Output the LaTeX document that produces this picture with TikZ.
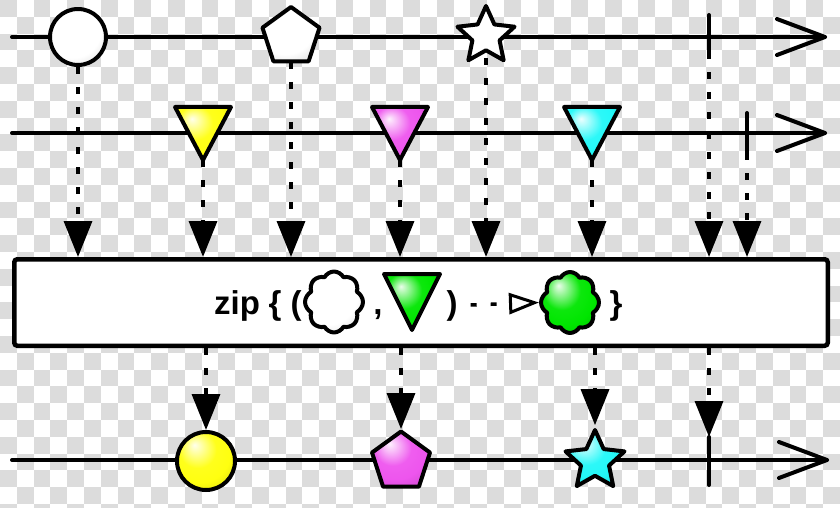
\documentclass[tikz,border=0pt]{standalone}
\usepackage{fontspec}
\setmainfont{Liberation Sans}
\usetikzlibrary{shapes.geometric,shapes.symbols,arrows.meta}
\colorlet{mcol}{white}
\pgfdeclareradialshading[mcol]{marble}{\pgfpoint{-10bp}{14bp}}{color(0bp)=(mcol!8!white); color(5bp)=(mcol!35!white); color(16bp)=(mcol!95!white); color(26bp)=(mcol); color(38bp)=(mcol!86!black); color(55bp)=(mcol!64!black)}
\definecolor{mpink}{HTML}{EE55EE}
\definecolor{mcyan}{HTML}{22F8F8}
\definecolor{mgreen}{HTML}{00E600}
\definecolor{myellow}{HTML}{FFFF10}
\definecolor{checker}{HTML}{DCDCDC}
\tikzset{
  mc/.code={\colorlet{mcol}{#1}},
  mbl/.style={draw=black, line width=4pt, line join=round, shading=marble, mc=#1, inner sep=0pt, outer sep=2pt},
  mcirc/.style={mbl=#1, circle},
  mpent/.style={mbl=#1, regular polygon, regular polygon sides=5},
  mstar/.style={mbl=#1, star, star points=5, star point ratio=2.1},
  mcloud/.style={mbl=#1, cloud, cloud puffs=8, cloud puff arc=125, aspect=1},
  axis/.style={line width=4pt, line cap=round, line join=round},
  conn/.style={line width=3.5pt, dash pattern=on 7pt off 13pt, -{Triangle[width=28pt,length=36pt]}},
  txt/.style={inner sep=0pt, font=\bfseries\fontsize{33}{39}\selectfont},
  zarr/.style={line width=3.5pt, dash pattern=on 6pt off 14pt, -{Triangle[open,length=30pt,width=21pt,line width=3pt]}}
}
\begin{document}
\begin{tikzpicture}[x=1pt,y=-1pt]
\useasboundingbox (0,0) rectangle (840,508);
\clip (0,0) rectangle (840,508);
% checkerboard background
\fill[white] (0,0) rectangle (840,508);
\foreach \i in {0,...,49}{\foreach \j in {0,...,30}{%
  \pgfmathtruncatemacro\ckp{mod(\i+\j,2)}%
  \ifnum\ckp=0 \fill[checker] (\i*16.8,\j*16.8) rectangle ++(16.8,16.8);\fi}}

% operator box
\node[draw, line width=4.5pt, fill=white, rounded corners=3pt, minimum width=813.5pt, minimum height=86.5pt, inner sep=0pt] (box) at (421,302.5) {};

% axes
\coordinate (a1s) at (12,37);  \coordinate (a1e) at (825,37);
\coordinate (a2s) at (12,133); \coordinate (a2e) at (825,133);
\coordinate (a3s) at (12,460); \coordinate (a3e) at (827,460);
\foreach \a in {a1,a2,a3}{
  \draw[axis] (\a s) -- (\a e);
  \draw[axis] ([shift={(-48,-18)}]\a e) -- (\a e) -- ([shift={(-48,18)}]\a e);
}

% completion ticks
\coordinate (k1t) at (709,15);  \coordinate (k1b) at (709,52);
\coordinate (k2t) at (747,113); \coordinate (k2b) at (747,153);
\coordinate (k3t) at (709,437); \coordinate (k3b) at (709,485);

% triangle anchors (second stream)
\coordinate (t1) at (203,133); \coordinate (t1a) at (203,160);
\coordinate (t2) at (400,133); \coordinate (t2a) at (400,160);
\coordinate (t3) at (592,133); \coordinate (t3a) at (592,160);

% marble placement
\path (78,37) coordinate (c1p) (291,37) coordinate (p1p) (486,36) coordinate (s1p);

% connectors into the box
\draw[conn] (78,67) coordinate (c1s) -- (c1s |- box.north);
\draw[conn] (t1a) -- (t1a |- box.north);
\draw[conn] (291,62) coordinate (p1s) -- (p1s |- box.north);
\draw[conn] (t2a) -- (t2a |- box.north);
\draw[conn] (486,58) coordinate (s1s) -- (s1s |- box.north);
\draw[conn] (t3a) -- (t3a |- box.north);
\draw[conn] (k1b) -- (k1b |- box.north);
\draw[conn] (k2b) -- (k2b |- box.north);

% ticks
\draw[axis] (k1t) -- (k1b);
\draw[axis] (k2t) -- (k2b);

% top stream marbles
\node[mcirc=white, minimum size=56pt] (c1) at (c1p) {};
\node[mpent=white, minimum size=60pt] (p1) at (p1p) {};
\node[mstar=white, minimum size=60pt] (s1) at (s1p) {};

% second stream triangles
\foreach \t/\col in {t1/myellow, t2/mpink, t3/mcyan}{
  \path[mbl=\col] ([shift={(-28,-26)}]\t) -- ([shift={(28,-26)}]\t) -- ([shift={(0,27)}]\t) -- cycle;
}

% output stream marbles
\node[mcirc=myellow, minimum size=58pt] (c2) at (206,461) {};
\node[mpent=mpink, minimum size=61pt] (p2) at (401,462) {};
\node[mstar=mcyan, minimum size=62pt] (s2) at (595,461) {};

% connectors out of the box
\draw[conn] (box.south -| c2.north) -- (c2.north);
\draw[conn] (box.south -| p2.north) -- (p2.north);
\draw[conn] (box.south -| s2.north) -- (s2.north);
\draw[conn] (box.south -| k3t) -- (k3t);
\draw[axis] (k3t) -- (k3b);

% box label
\node[txt, anchor=base west] (zip) at (214,314) {zip};
\node[txt, anchor=base] (lb) at (275,314) {\{};
\node[txt, anchor=base] (lp) at (296,314) {(};
\node[mcloud=white, minimum width=58pt, minimum height=61pt] (wc) at (334,302) {};
\node[txt, anchor=base] (cm) at (378,314) {,};
\coordinate (gt) at (412,302);
\path[mbl=mgreen] ([shift={(-28,-28)}]gt) -- ([shift={(28,-28)}]gt) -- ([shift={(0,28)}]gt) -- cycle;
\node[txt, anchor=base] (rp) at (452,314) {)};
\node[mcloud=mgreen, minimum width=58pt, minimum height=61pt] (gc) at (570,302.5) {};
\node[txt, anchor=base] (rb) at (616,314) {\}};
\draw[zarr, shorten <=13pt] (rp.east) -- (gc.west);
\end{tikzpicture}
\end{document}
